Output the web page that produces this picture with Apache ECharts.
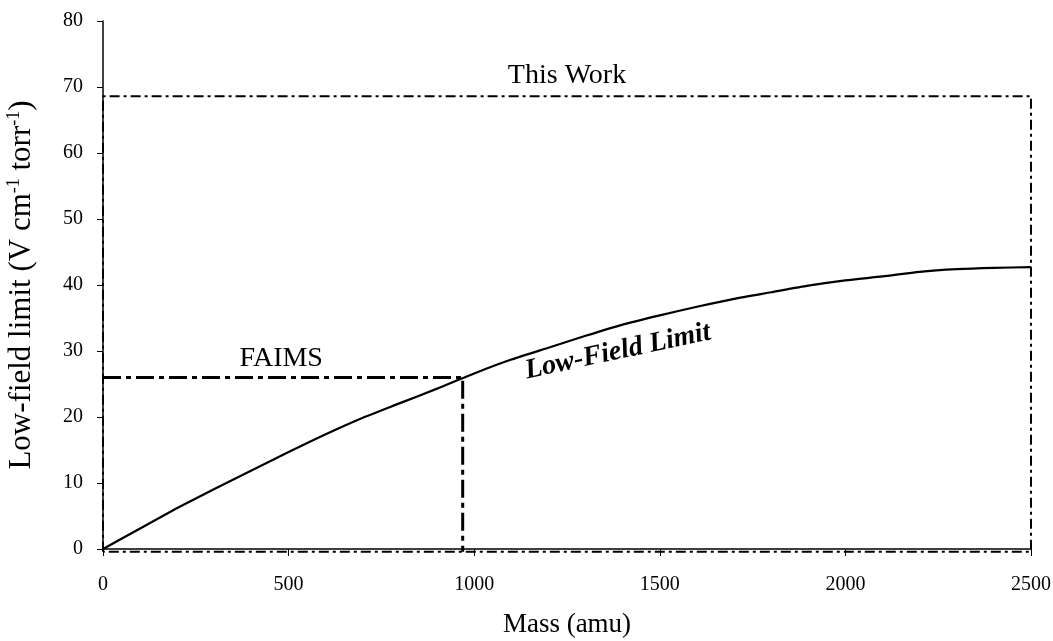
<!DOCTYPE html>
<html><head><meta charset="utf-8">
<script src="https://cdn.jsdelivr.net/npm/echarts@6/dist/echarts.min.js"></script>
<style>html,body{margin:0;padding:0;background:#fff}#c{width:1053px;height:641px}</style>
</head><body><div id="c"></div>
<script>
// Data
const mass = [0,100,200,300,400,500,600,700,800,900,1000,1100,1200,1300,1400,1500,1600,1700,1800,1900,2000,2100,2200,2300,2400,2500];
const lowFieldLimit = [0,3.1,6.2,9.1,11.9,14.7,17.4,19.9,22.1,24.3,26.6,28.7,30.5,32.3,34.0,35.4,36.7,37.9,38.9,39.9,40.7,41.3,42.0,42.4,42.6,42.7];
const thisWorkBoxX = [0,0,2500,2500,0];
const thisWorkBoxY = [-0.4,68.6,68.6,-0.4,-0.4];
const faimsBoxX = [0,969,969];
const faimsBoxY = [26,26,-0.4];
const xTicks = {min:0, max:2500, interval:500};
const yTicks = {min:0, max:80, interval:10};
const annotations = [
  {text:'This Work', x:1250, y:71.7, italic:false, bold:false, rotate:0},
  {text:'FAIMS', x:480, y:28.8, italic:false, bold:false, rotate:0},
  {text:'Low-Field Limit', x:1387, y:29.9, italic:true, bold:true, rotate:12}
];

const FONT = '"Liberation Serif","DejaVu Serif",serif';
const chart = echarts.init(document.getElementById('c'), null, {renderer:'canvas'});
const zip = (xs, ys) => xs.map((x,i)=>[x, ys[i]]);

chart.setOption({
  backgroundColor:'#fff',
  animation:false,
  grid:{left:103, right:22, top:21, bottom:92, containLabel:false, outerBoundsMode:'none'},
  xAxis:{
    type:'value', min:xTicks.min, max:xTicks.max, interval:xTicks.interval,
    name:'Mass (amu)', nameLocation:'middle', nameGap:62,
    nameTextStyle:{fontFamily:FONT, fontSize:27, color:'#000'},
    axisLine:{show:true, onZero:false, lineStyle:{color:'#000', width:1.5}},
    axisTick:{show:true, length:7, lineStyle:{color:'#000', width:1}},
    axisLabel:{fontFamily:FONT, fontSize:20, color:'#000', margin:26, formatter:v=>String(v)},
    splitLine:{show:false}
  },
  yAxis:{
    type:'value', min:yTicks.min, max:yTicks.max, interval:yTicks.interval,
    name:'{n|Low-field limit (V cm}{s|-1}{n| torr}{s|-1}{n|)}',
    nameLocation:'middle', nameGap:64, nameRotate:90,
    nameTextStyle:{fontFamily:FONT, fontSize:31, color:'#000',
      rich:{
        n:{fontFamily:FONT, fontSize:31, color:'#000', lineHeight:34},
        s:{fontFamily:FONT, fontSize:18, color:'#000', lineHeight:34, verticalAlign:'top'}
      }},
    axisLine:{show:true, lineStyle:{color:'#000', width:1.5}},
    axisTick:{show:true, length:6, lineStyle:{color:'#000', width:1}},
    axisLabel:{fontFamily:FONT, fontSize:20, color:'#000', margin:20},
    splitLine:{show:false}
  },
  series:[
    {type:'line', name:'This Work', data:zip(thisWorkBoxX, thisWorkBoxY), showSymbol:false, clip:false,
     lineStyle:{color:'#000', width:2, type:[10,4,3,4]}, z:2},
    {type:'line', name:'FAIMS', data:zip(faimsBoxX, faimsBoxY), showSymbol:false, clip:false,
     lineStyle:{color:'#000', width:3, type:[18,5,5,5]}, z:2},
    {type:'line', name:'Low-Field Limit', data:zip(mass, lowFieldLimit), showSymbol:false, smooth:0.2,
     lineStyle:{color:'#000', width:2.2}, z:3}
  ]
});

chart.setOption({
  graphic: annotations.map(a => {
    const p = chart.convertToPixel({gridIndex:0}, [a.x, a.y]);
    return {
      type:'text', x:p[0], y:p[1], rotation:a.rotate*Math.PI/180,
      style:{text:a.text, fontFamily:FONT, fontSize:28,
        fontStyle:a.italic?'italic':'normal', fontWeight:a.bold?'bold':'normal',
        fill:'#000', align:'center', verticalAlign:'middle'}
    };
  })
});
</script></body></html>
